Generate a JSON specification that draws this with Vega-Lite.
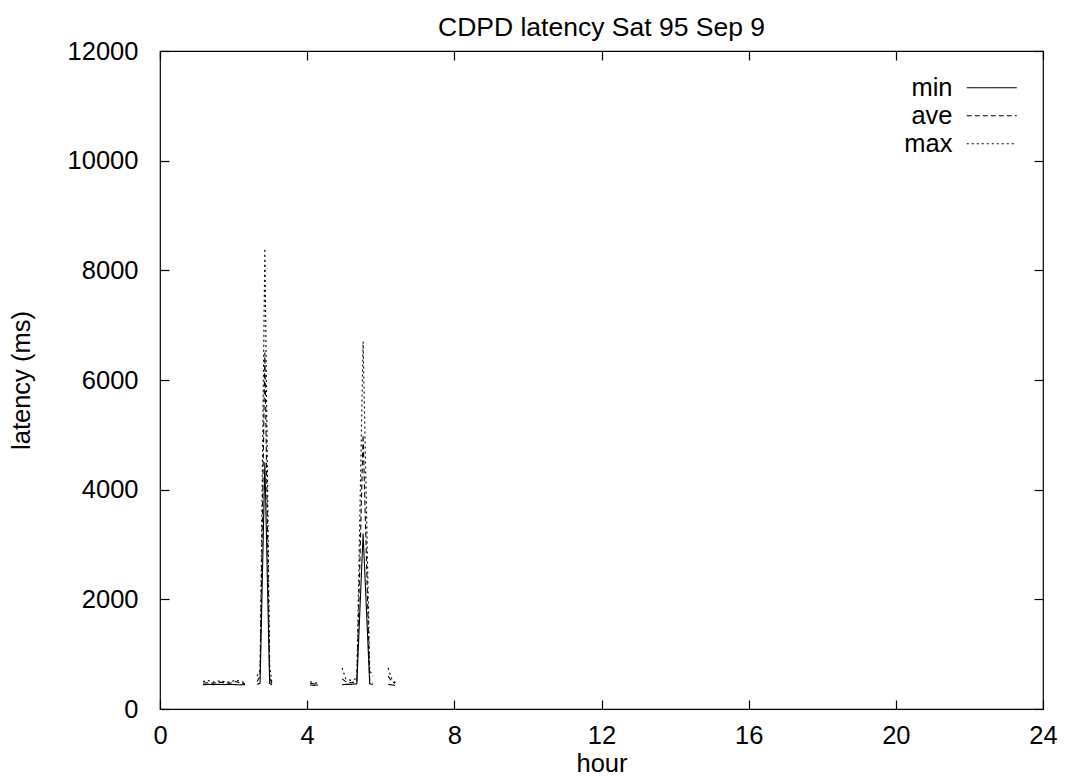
{
  "$schema": "https://vega.github.io/schema/vega-lite/v6.json",
  "autosize": "none",
  "width": 883,
  "height": 658,
  "padding": {"left": 160, "top": 51, "right": 22, "bottom": 73},
  "background": "white",
  "config": {
    "font": "Liberation Sans",
    "view": {"stroke": "black", "strokeWidth": 1.2},
    "axis": {"grid": false, "domain": false, "tickColor": "black", "tickSize": -9, "tickWidth": 1.2, "labelFont": "Liberation Sans", "labelFontSize": 25.5, "labelColor": "black", "labelFlush": false, "titleFont": "Liberation Sans", "titleFontSize": 25.5, "titleFontWeight": "normal", "titleColor": "black"}
  },
  "title": {"text": "CDPD latency Sat 95 Sep 9", "fontSize": 26.5, "fontWeight": "normal", "font": "Liberation Sans", "color": "black", "anchor": "middle", "offset": -2},
  "data": {"values": [
    {"hour": 1.17, "seg": "A", "series": "min", "ms": 440},
    {"hour": 1.3, "seg": "A", "series": "min", "ms": 450},
    {"hour": 1.45, "seg": "A", "series": "min", "ms": 445},
    {"hour": 1.6, "seg": "A", "series": "min", "ms": 450},
    {"hour": 1.75, "seg": "A", "series": "min", "ms": 445},
    {"hour": 1.9, "seg": "A", "series": "min", "ms": 450},
    {"hour": 2.05, "seg": "A", "series": "min", "ms": 445},
    {"hour": 2.2, "seg": "A", "series": "min", "ms": 440},
    {"hour": 2.31, "seg": "A", "series": "min", "ms": 445},
    {"hour": 1.17, "seg": "A", "series": "ave", "ms": 470},
    {"hour": 1.3, "seg": "A", "series": "ave", "ms": 480},
    {"hour": 1.45, "seg": "A", "series": "ave", "ms": 470},
    {"hour": 1.6, "seg": "A", "series": "ave", "ms": 490},
    {"hour": 1.75, "seg": "A", "series": "ave", "ms": 480},
    {"hour": 1.9, "seg": "A", "series": "ave", "ms": 470},
    {"hour": 2.05, "seg": "A", "series": "ave", "ms": 500},
    {"hour": 2.2, "seg": "A", "series": "ave", "ms": 470},
    {"hour": 2.31, "seg": "A", "series": "ave", "ms": 460},
    {"hour": 1.17, "seg": "A", "series": "max", "ms": 500},
    {"hour": 1.3, "seg": "A", "series": "max", "ms": 520},
    {"hour": 1.45, "seg": "A", "series": "max", "ms": 490},
    {"hour": 1.6, "seg": "A", "series": "max", "ms": 510},
    {"hour": 1.75, "seg": "A", "series": "max", "ms": 500},
    {"hour": 1.9, "seg": "A", "series": "max", "ms": 490},
    {"hour": 2.05, "seg": "A", "series": "max", "ms": 530},
    {"hour": 2.2, "seg": "A", "series": "max", "ms": 500},
    {"hour": 2.31, "seg": "A", "series": "max", "ms": 480},
    {"hour": 2.64, "seg": "B", "series": "min", "ms": 450},
    {"hour": 2.72, "seg": "B", "series": "min", "ms": 470},
    {"hour": 2.85, "seg": "B", "series": "min", "ms": 4500},
    {"hour": 2.98, "seg": "B", "series": "min", "ms": 470},
    {"hour": 3.04, "seg": "B", "series": "min", "ms": 440},
    {"hour": 2.64, "seg": "B", "series": "ave", "ms": 500},
    {"hour": 2.72, "seg": "B", "series": "ave", "ms": 600},
    {"hour": 2.85, "seg": "B", "series": "ave", "ms": 6500},
    {"hour": 2.98, "seg": "B", "series": "ave", "ms": 600},
    {"hour": 3.04, "seg": "B", "series": "ave", "ms": 460},
    {"hour": 2.64, "seg": "B", "series": "max", "ms": 600},
    {"hour": 2.72, "seg": "B", "series": "max", "ms": 700},
    {"hour": 2.85, "seg": "B", "series": "max", "ms": 8400},
    {"hour": 2.98, "seg": "B", "series": "max", "ms": 800},
    {"hour": 3.04, "seg": "B", "series": "max", "ms": 480},
    {"hour": 4.08, "seg": "C", "series": "min", "ms": 440},
    {"hour": 4.18, "seg": "C", "series": "min", "ms": 430},
    {"hour": 4.29, "seg": "C", "series": "min", "ms": 440},
    {"hour": 4.08, "seg": "C", "series": "ave", "ms": 470},
    {"hour": 4.18, "seg": "C", "series": "ave", "ms": 460},
    {"hour": 4.29, "seg": "C", "series": "ave", "ms": 450},
    {"hour": 4.08, "seg": "C", "series": "max", "ms": 500},
    {"hour": 4.18, "seg": "C", "series": "max", "ms": 480},
    {"hour": 4.29, "seg": "C", "series": "max", "ms": 470},
    {"hour": 4.95, "seg": "D", "series": "min", "ms": 440},
    {"hour": 5.05, "seg": "D", "series": "min", "ms": 450},
    {"hour": 5.2, "seg": "D", "series": "min", "ms": 450},
    {"hour": 5.35, "seg": "D", "series": "min", "ms": 460},
    {"hour": 5.52, "seg": "D", "series": "min", "ms": 3200},
    {"hour": 5.7, "seg": "D", "series": "min", "ms": 460},
    {"hour": 5.79, "seg": "D", "series": "min", "ms": 450},
    {"hour": 4.95, "seg": "D", "series": "ave", "ms": 550},
    {"hour": 5.05, "seg": "D", "series": "ave", "ms": 500},
    {"hour": 5.2, "seg": "D", "series": "ave", "ms": 480},
    {"hour": 5.35, "seg": "D", "series": "ave", "ms": 500},
    {"hour": 5.52, "seg": "D", "series": "ave", "ms": 5000},
    {"hour": 5.7, "seg": "D", "series": "ave", "ms": 520},
    {"hour": 5.79, "seg": "D", "series": "ave", "ms": 480},
    {"hour": 4.95, "seg": "D", "series": "max", "ms": 750},
    {"hour": 5.05, "seg": "D", "series": "max", "ms": 550},
    {"hour": 5.2, "seg": "D", "series": "max", "ms": 520},
    {"hour": 5.35, "seg": "D", "series": "max", "ms": 560},
    {"hour": 5.52, "seg": "D", "series": "max", "ms": 6700},
    {"hour": 5.7, "seg": "D", "series": "max", "ms": 700},
    {"hour": 5.79, "seg": "D", "series": "max", "ms": 600},
    {"hour": 6.2, "seg": "E", "series": "min", "ms": 450},
    {"hour": 6.3, "seg": "E", "series": "min", "ms": 440},
    {"hour": 6.39, "seg": "E", "series": "min", "ms": 430},
    {"hour": 6.2, "seg": "E", "series": "ave", "ms": 600},
    {"hour": 6.3, "seg": "E", "series": "ave", "ms": 500},
    {"hour": 6.39, "seg": "E", "series": "ave", "ms": 470},
    {"hour": 6.2, "seg": "E", "series": "max", "ms": 750},
    {"hour": 6.3, "seg": "E", "series": "max", "ms": 550},
    {"hour": 6.39, "seg": "E", "series": "max", "ms": 480}
  ]},
  "layer": [
    {
      "mark": {"type": "line", "color": "black", "strokeWidth": 1.1},
      "encoding": {
        "x": {"field": "hour", "type": "quantitative", "scale": {"domain": [0, 24], "nice": false, "zero": false},
              "axis": {"orient": "bottom", "values": [0, 4, 8, 12, 16, 20, 24], "labelPadding": 23, "title": "hour", "titlePadding": 3}},
        "y": {"field": "ms", "type": "quantitative", "scale": {"domain": [0, 12000], "nice": false},
              "axis": {"orient": "left", "values": [0, 2000, 4000, 6000, 8000, 10000, 12000], "format": "d", "labelPadding": 31, "title": "latency (ms)", "titlePadding": 33}},
        "strokeDash": {"field": "series", "type": "nominal",
                       "scale": {"domain": ["min", "ave", "max"], "range": [[1, 0], [5, 3], [2, 3]]},
                       "legend": {"title": null, "orient": "none", "legendX": 819, "legendY": 24, "symbolType": "M-3,0H3", "symbolSize": 278, "symbolStrokeWidth": 1.1, "symbolStrokeColor": "black", "symbolFillColor": "transparent", "labelFontSize": 25.5, "labelColor": "black", "labelAlign": "right", "labelOffset": -52, "rowPadding": 1, "labelLimit": 200}},
        "detail": {"field": "seg", "type": "nominal"}
      }
    },
    {
      "mark": {"type": "line", "opacity": 0},
      "encoding": {
        "x": {"field": "hour", "type": "quantitative", "axis": {"orient": "top", "values": [0, 4, 8, 12, 16, 20, 24], "labels": false, "title": null}},
        "y": {"field": "ms", "type": "quantitative", "axis": {"orient": "right", "values": [0, 2000, 4000, 6000, 8000, 10000, 12000], "labels": false, "title": null}},
        "detail": {"field": "seg", "type": "nominal"}
      }
    }
  ],
  "resolve": {"axis": {"x": "independent", "y": "independent"}}
}
